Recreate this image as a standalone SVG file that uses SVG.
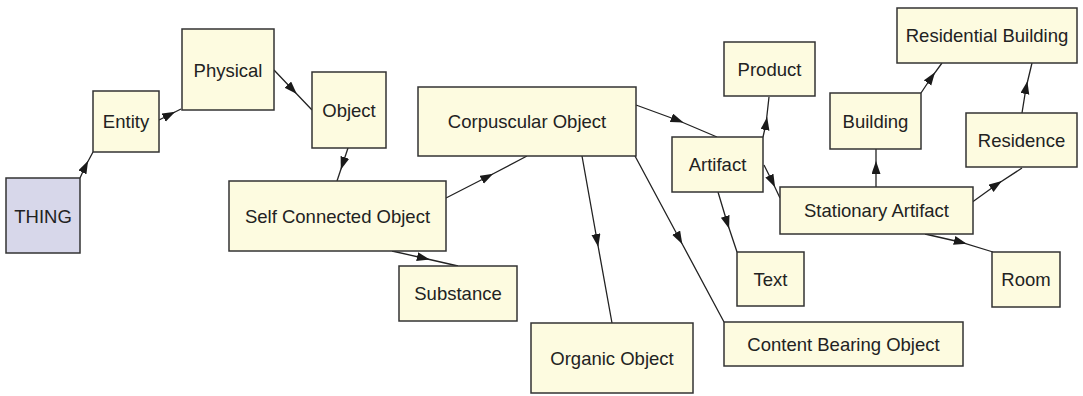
<svg xmlns="http://www.w3.org/2000/svg" width="1083" height="396" viewBox="0 0 1083 396">
  <style>
    .node rect { fill: #fdfbe0; stroke: #333333; stroke-width: 1.5; }
    .root rect { fill: #d7d7ea; }
    .node text { font-family: "Liberation Sans", Arial, sans-serif; font-size: 18.5px; fill: #222222; text-anchor: middle; }
    .edges path { fill: none; stroke: #222222; stroke-width: 1.3; marker-mid: url(#arrow); }
  </style>
  <defs>
    <marker id="arrow" markerUnits="userSpaceOnUse" markerWidth="14" markerHeight="10" refX="6" refY="4.5" orient="auto">
      <path d="M0,0 L13,4.5 L0,9 z" fill="#1a1a1a"/>
    </marker>
  </defs>
  <rect width="1083" height="396" fill="#ffffff"/>

  <!-- connectors: start, arrowhead position, end -->
  <g id="edges" class="edges">
    <path d="M80,178 L85,167 L93,152"/>
    <path d="M159,120 L169,115 L181,109"/>
    <path d="M274,70 L292,89 L312,110"/>
    <path d="M348,148 L343,163 L337,181"/>
    <path d="M446,198 L487,177 L527,156"/>
    <path d="M392,251 L423,258 L458,266"/>
    <path d="M636,105 L677,120 L717,137"/>
    <path d="M582,156 L597,240 L612,323"/>
    <path d="M635,156 L679,238 L724,322"/>
    <path d="M763,137 L766,124 L769,97"/>
    <path d="M764,165 L772,181 L780,198"/>
    <path d="M718,192 L727,222 L737,252"/>
    <path d="M876,187 L876,168 L876,149"/>
    <path d="M971,203 L996,185 L1022,168"/>
    <path d="M925,234 L960,242 L993,252"/>
    <path d="M921,93 L931,78 L942,63"/>
    <path d="M1022,113 L1026,88 L1032,63"/>
  </g>

  <g id="thing" class="node root"><rect x="6" y="178" width="74" height="75"/><text x="43" y="222.5">THING</text></g>
  <g id="entity" class="node"><rect x="93" y="91" width="66" height="61"/><text x="126" y="128.3">Entity</text></g>
  <g id="physical" class="node"><rect x="182" y="29" width="92" height="81"/><text x="228" y="76.5">Physical</text></g>
  <g id="object" class="node"><rect x="312" y="72" width="74" height="76"/><text x="349" y="116.7">Object</text></g>
  <g id="self-connected-object" class="node"><rect x="229" y="181" width="217" height="70"/><text x="337.5" y="222.8">Self Connected Object</text></g>
  <g id="substance" class="node"><rect x="399" y="266" width="118" height="55"/><text x="458" y="300">Substance</text></g>
  <g id="corpuscular-object" class="node"><rect x="418" y="87" width="218" height="69"/><text x="527" y="128">Corpuscular Object</text></g>
  <g id="organic-object" class="node"><rect x="531" y="323" width="162" height="70"/><text x="612" y="364.7">Organic Object</text></g>
  <g id="content-bearing-object" class="node"><rect x="724" y="322" width="239" height="44"/><text x="843.5" y="350.5">Content Bearing Object</text></g>
  <g id="artifact" class="node"><rect x="672" y="137" width="91" height="55"/><text x="717.5" y="171">Artifact</text></g>
  <g id="product" class="node"><rect x="724" y="42" width="91" height="54"/><text x="769.5" y="75.7">Product</text></g>
  <g id="text" class="node"><rect x="737" y="252" width="67" height="54"/><text x="770.5" y="285.7">Text</text></g>
  <g id="stationary-artifact" class="node"><rect x="780" y="187" width="193" height="47"/><text x="876.5" y="217">Stationary Artifact</text></g>
  <g id="building" class="node"><rect x="830" y="93" width="91" height="56"/><text x="875.5" y="127.5">Building</text></g>
  <g id="residential-building" class="node"><rect x="897" y="8" width="180" height="55"/><text x="987" y="42">Residential Building</text></g>
  <g id="residence" class="node"><rect x="966" y="113" width="111" height="54"/><text x="1021.5" y="146.5">Residence</text></g>
  <g id="room" class="node"><rect x="992" y="252" width="68" height="55"/><text x="1026" y="286">Room</text></g>
</svg>
